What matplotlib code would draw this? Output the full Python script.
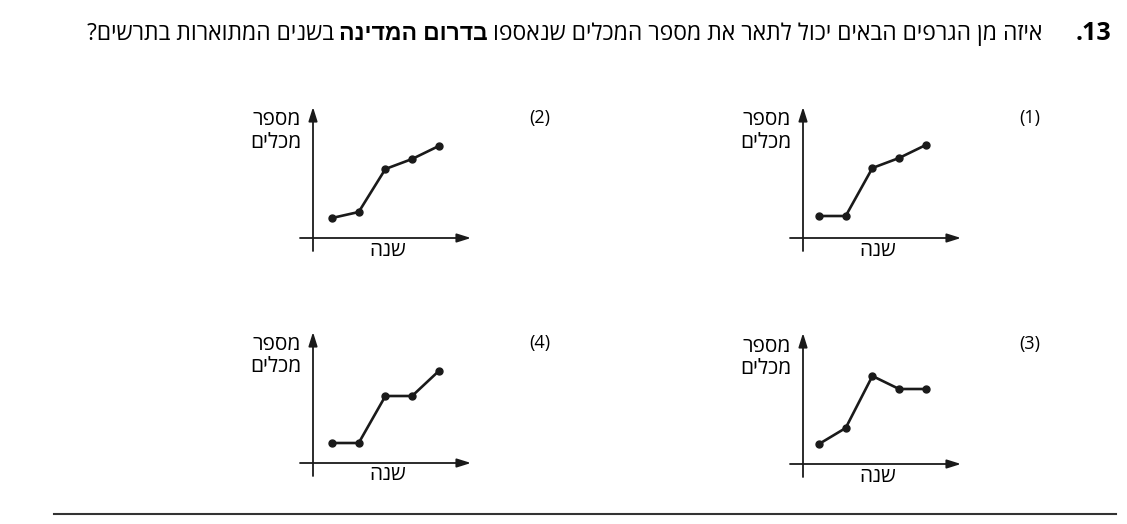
import matplotlib.pyplot as plt

# Hebrew texts are stored in logical order and reversed for drawing (matplotlib has no bidi)
def vis(s):
    return s[::-1]

W, H = 1127, 524

years = [1, 2, 3, 4, 5]
counts_1 = [22, 22, 70, 80, 93]
counts_2 = [20, 26, 69, 79, 92]
counts_3 = [20, 36, 88, 75, 75]
counts_4 = [20, 20, 67, 67, 92]
panel_tags = ['(1)', '(2)', '(3)', '(4)']

q_num = '.13'
question_a = 'איזה מן הגרפים הבאים יכול לתאר את מספר המכלים שנאספו'
question_b = 'בדרום המדינה'
question_c = 'בשנים המתוארות בתרשים?'
y_label = ['מספר', 'מכלים']
x_label = 'שנה'

plt.rcParams['font.family'] = ['Open Sans', 'Liberation Sans', 'DejaVu Sans']

fig = plt.figure(figsize=(W / 100, H / 100), dpi=100)
r = fig.canvas.get_renderer()

def fx(px):
    return px / W

def fy(px):
    return 1 - px / H

# title line, chained right to left
fig.text(fx(1111), fy(33), q_num, ha='right', va='center', fontsize=18, weight='bold')
base_y = fy(40)
t = fig.text(fx(1042), base_y, vis(question_a), ha='right', va='baseline', fontsize=16.5)
for part, w in [(question_b, 'bold'), (question_c, 'normal')]:
    bb = t.get_window_extent(renderer=r)
    t = fig.text(fx(bb.x0 - 5), base_y, vis(part), ha='right', va='baseline', fontsize=16.5, weight=w)

px_year = 26.7

def panel(ox, oy, off, counts, tag):
    left, right = ox - 16, ox + 162
    top, bottom = oy - 134, oy + 16
    ax = fig.add_axes([fx(left), fy(bottom), (right - left) / W, (bottom - top) / H])
    x0 = years[0] - off / px_year  # where the vertical axis stands
    ax.set_xlim(x0 - 16 / px_year, x0 + 162 / px_year)
    ax.set_ylim(-16, 134)
    ax.axis('off')
    arr = dict(arrowstyle='-|>,head_length=0.7,head_width=0.22', lw=1.3, color='#1a1a1a',
               mutation_scale=12, shrinkA=0, shrinkB=0)
    ax.annotate('', xy=(x0, 131), xytext=(x0, -13), arrowprops=arr)
    ax.annotate('', xy=(x0 + 158 / px_year, 0), xytext=(x0 - 13 / px_year, 0), arrowprops=arr)
    ax.plot(years, counts, color='#1a1a1a', lw=1.9, marker='o', ms=5)

    fig.text(fx(ox - 12), fy(oy - 118), vis(y_label[0]), ha='right', va='center', fontsize=15, weight='medium')
    fig.text(fx(ox - 12), fy(oy - 96), vis(y_label[1]), ha='right', va='center', fontsize=15, weight='medium')
    fig.text(fx(ox + 75), fy(oy + 12), vis(x_label), ha='center', va='center', fontsize=15, weight='medium')
    fig.text(fx(ox + 227), fy(oy - 120), tag, ha='center', va='center', fontsize=13)

panel(803, 238, 16, counts_1, panel_tags[0])
panel(313, 238, 19, counts_2, panel_tags[1])
panel(803, 464, 16, counts_3, panel_tags[2])
panel(313, 463, 19, counts_4, panel_tags[3])

# bottom separator
fig.add_artist(plt.Line2D([fx(54), fx(1116)], [fy(514), fy(514)], color='#333333', lw=1.5))

fig.savefig('out.png', dpi=100)
